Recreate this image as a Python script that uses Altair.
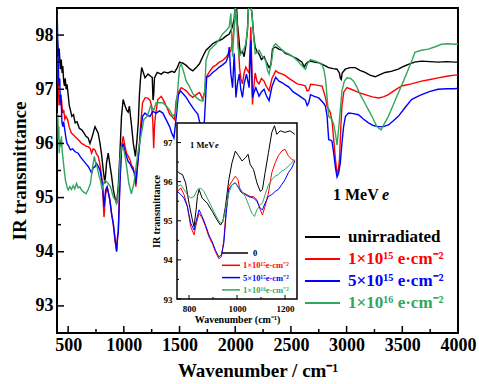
import altair as alt
import pandas as pd

FONT = "Liberation Serif"

# ---------------- main spectra (wavenumber cm-1, IR transmittance) ----------------
unirradiated = [
    (405, 97.90), (412, 97.60), (420, 97.75), (430, 97.37), (438, 97.55), (446, 97.30), (452, 97.43),
    (460, 97.15), (467, 97.06), (474, 97.20), (482, 97.00), (490, 97.09), (500, 96.90), (510, 96.70),
    (520, 96.62), (533, 96.50), (548, 96.53), (563, 96.38), (580, 96.40), (600, 96.28), (622, 96.25),
    (640, 96.20), (660, 96.13), (680, 96.10), (696, 96.00), (712, 96.10), (725, 96.19), (741, 96.31),
    (755, 96.25), (770, 96.19), (786, 96.00), (800, 95.80), (815, 95.51), (830, 95.26), (845, 95.65),
    (860, 95.82), (875, 95.60), (890, 95.40), (905, 95.15), (920, 95.00), (935, 94.89), (950, 95.20),
    (965, 95.82), (979, 96.50), (994, 96.81), (1010, 96.70), (1024, 96.62), (1039, 96.58), (1050, 96.69),
    (1060, 96.50), (1070, 96.31), (1085, 96.00), (1104, 95.76), (1118, 96.07), (1130, 96.40),
    (1140, 96.90), (1150, 97.20), (1160, 97.40), (1175, 97.31), (1190, 97.21), (1217, 97.28),
    (1240, 97.24), (1255, 97.22), (1262, 96.80), (1268, 96.90), (1275, 97.21), (1300, 97.31),
    (1336, 97.28), (1360, 97.32), (1396, 97.30), (1430, 97.33), (1455, 97.31), (1480, 97.40),
    (1500, 97.50), (1530, 97.48), (1560, 97.44), (1590, 97.38), (1619, 97.34), (1650, 97.40),
    (1679, 97.47), (1708, 97.60), (1738, 97.72), (1768, 97.78), (1798, 97.84), (1830, 97.88),
    (1857, 97.90), (1887, 97.93), (1917, 97.98), (1946, 98.02), (1965, 98.10), (1980, 98.20),
    (1991, 98.30), (2000, 98.60), (2010, 98.60), (2020, 98.20), (2030, 98.00), (2045, 97.65),
    (2065, 97.70), (2080, 97.60), (2095, 97.80), (2110, 98.10), (2120, 98.60), (2135, 98.60),
    (2150, 98.40), (2165, 98.00), (2179, 97.78), (2195, 97.70), (2214, 97.65), (2235, 97.55),
    (2259, 97.60), (2280, 97.50), (2304, 97.40), (2320, 97.45), (2335, 97.75), (2363, 97.78),
    (2390, 97.74), (2423, 97.72), (2450, 97.66), (2482, 97.64), (2520, 97.60), (2557, 97.56),
    (2600, 97.50), (2620, 97.40), (2631, 97.46), (2650, 97.50), (2676, 97.52), (2710, 97.50),
    (2750, 97.49), (2800, 97.44), (2839, 97.40), (2880, 97.38), (2914, 97.37), (2935, 97.30),
    (2945, 97.20), (2952, 97.18), (2960, 97.30), (2988, 97.37), (3030, 97.40), (3077, 97.40),
    (3120, 97.35), (3166, 97.31), (3210, 97.26), (3256, 97.23), (3300, 97.27), (3345, 97.31),
    (3400, 97.33), (3464, 97.37), (3510, 97.42), (3554, 97.46), (3610, 97.50), (3673, 97.52),
    (3750, 97.51), (3821, 97.50), (3900, 97.51), (3970, 97.50), (4000, 97.50),
]

dose_1e15 = [
    (405, 97.60), (410, 97.20), (418, 96.70), (425, 96.90), (432, 96.70), (440, 96.81), (450, 96.56),
    (460, 96.62), (470, 96.45), (480, 96.50), (495, 96.44), (510, 96.30), (530, 96.19), (550, 96.15),
    (575, 96.10), (600, 96.05), (620, 96.00), (640, 95.98), (660, 95.95), (680, 95.94), (700, 95.90),
    (711, 95.82), (725, 95.90), (741, 95.88), (755, 95.80), (770, 95.76), (785, 95.62), (800, 95.40),
    (810, 95.14), (818, 94.80), (822, 94.64), (830, 94.90), (837, 95.07), (850, 95.20), (860, 95.10),
    (875, 94.95), (890, 94.70), (905, 94.52), (920, 94.21), (935, 94.02), (945, 94.30), (950, 94.40),
    (965, 95.32), (979, 95.94), (994, 96.13), (1010, 95.95), (1024, 95.82), (1040, 95.76), (1055, 95.70),
    (1068, 95.60), (1085, 95.55), (1098, 95.38), (1108, 95.20), (1120, 95.50), (1128, 95.70),
    (1140, 96.00), (1150, 96.31), (1168, 96.75), (1190, 96.84), (1210, 96.84), (1235, 96.80),
    (1250, 96.69), (1260, 96.40), (1268, 95.91), (1275, 96.30), (1283, 96.50), (1305, 96.81),
    (1336, 96.87), (1360, 96.78), (1380, 96.69), (1396, 96.62), (1411, 96.54), (1430, 96.50),
    (1455, 96.44), (1470, 96.79), (1490, 96.95), (1515, 97.03), (1540, 97.00), (1560, 96.97),
    (1590, 96.90), (1619, 96.85), (1650, 96.90), (1679, 96.94), (1700, 96.86), (1708, 96.79),
    (1725, 96.95), (1738, 97.22), (1768, 97.32), (1798, 97.41), (1830, 97.45), (1857, 97.50),
    (1887, 97.53), (1917, 97.59), (1940, 97.65), (1961, 97.72), (1975, 97.90), (1991, 98.15),
    (2006, 98.45), (2015, 98.30), (2024, 97.98), (2039, 97.40), (2050, 97.20), (2065, 97.10),
    (2080, 97.30), (2095, 97.41), (2110, 97.35), (2125, 97.30), (2140, 98.15), (2148, 97.50),
    (2155, 96.72), (2165, 97.00), (2179, 97.30), (2195, 97.15), (2214, 97.10), (2235, 97.20),
    (2259, 97.15), (2280, 97.05), (2304, 96.97), (2330, 97.20), (2363, 97.34), (2393, 97.30),
    (2423, 97.28), (2450, 97.25), (2482, 97.20), (2520, 97.15), (2557, 97.10), (2600, 97.08),
    (2631, 97.06), (2645, 96.97), (2660, 96.98), (2676, 97.09), (2720, 97.08), (2780, 97.06),
    (2810, 96.85), (2824, 96.69), (2854, 96.57), (2870, 96.40), (2884, 96.07), (2900, 95.70),
    (2914, 95.45), (2925, 95.50), (2936, 95.70), (2948, 96.30), (2958, 96.69), (2975, 96.95),
    (3003, 97.03), (3040, 97.00), (3077, 96.97), (3120, 96.93), (3166, 96.90), (3230, 96.86),
    (3286, 96.84), (3330, 96.86), (3375, 96.90), (3430, 96.98), (3494, 97.06), (3580, 97.10),
    (3673, 97.15), (3750, 97.18), (3821, 97.21), (3900, 97.24), (3970, 97.26), (4000, 97.26),
]

dose_5e15 = [
    (400, 98.50), (403, 98.30), (407, 97.80), (411, 97.55), (415, 97.20), (420, 97.06), (425, 97.20),
    (430, 96.75), (436, 96.90), (444, 96.40), (452, 96.31), (460, 96.40), (470, 96.25), (480, 96.10),
    (490, 96.00), (505, 95.95), (520, 95.88), (540, 95.90), (560, 95.85), (590, 95.82), (610, 95.75),
    (630, 95.70), (650, 95.65), (670, 95.60), (682, 95.57), (700, 95.50), (711, 95.45), (725, 95.55),
    (741, 95.57), (755, 95.63), (770, 95.58), (785, 95.51), (800, 95.35), (810, 95.20), (818, 94.95),
    (823, 94.83), (830, 95.00), (837, 95.14), (850, 95.20), (860, 95.10), (875, 94.95), (890, 94.70),
    (905, 94.52), (920, 94.27), (935, 94.00), (945, 94.30), (950, 94.33), (965, 95.26), (979, 95.88),
    (994, 96.00), (1010, 95.85), (1024, 95.76), (1040, 95.66), (1055, 95.63), (1068, 95.57),
    (1085, 95.50), (1098, 95.45), (1108, 95.26), (1120, 95.55), (1128, 95.70), (1140, 95.95),
    (1150, 96.19), (1168, 96.50), (1190, 96.56), (1210, 96.52), (1235, 96.50), (1260, 96.59),
    (1290, 96.56), (1320, 96.60), (1350, 96.56), (1380, 96.44), (1411, 96.31), (1430, 96.19),
    (1450, 96.10), (1470, 96.48), (1490, 96.90), (1510, 96.97), (1530, 96.92), (1560, 96.85),
    (1590, 96.75), (1619, 96.66), (1640, 96.60), (1664, 96.54), (1680, 96.40), (1694, 96.35),
    (1708, 96.28), (1723, 96.41), (1744, 97.22), (1770, 97.25), (1798, 97.31), (1830, 97.36),
    (1857, 97.41), (1887, 97.45), (1917, 97.50), (1935, 97.60), (1946, 97.78), (1960, 97.30),
    (1976, 97.03), (1991, 97.66), (2000, 97.20), (2006, 96.85), (2020, 97.10), (2036, 97.28),
    (2050, 97.00), (2065, 96.85), (2080, 97.10), (2101, 97.28), (2125, 97.03), (2140, 97.90),
    (2148, 97.30), (2155, 96.85), (2170, 96.95), (2185, 97.03), (2200, 96.95), (2214, 96.87),
    (2235, 96.95), (2259, 97.00), (2280, 96.88), (2304, 96.79), (2330, 97.05), (2363, 97.22),
    (2393, 97.15), (2423, 97.12), (2450, 97.08), (2482, 97.04), (2520, 96.95), (2560, 96.90),
    (2601, 96.84), (2630, 96.80), (2646, 96.70), (2660, 96.75), (2676, 96.90), (2710, 96.87),
    (2750, 96.84), (2790, 96.75), (2810, 96.69), (2825, 96.50), (2839, 96.07), (2855, 96.06),
    (2869, 96.04), (2884, 95.82), (2900, 95.55), (2914, 95.38), (2928, 95.45), (2943, 95.63),
    (2958, 96.00), (2973, 96.31), (2990, 96.50), (3018, 96.56), (3060, 96.55), (3107, 96.53),
    (3150, 96.45), (3196, 96.38), (3240, 96.33), (3286, 96.31), (3330, 96.31), (3375, 96.34),
    (3420, 96.42), (3464, 96.50), (3520, 96.65), (3583, 96.81), (3630, 96.86), (3673, 96.90),
    (3750, 96.96), (3821, 97.00), (3900, 97.01), (3970, 97.01), (4000, 97.02),
]

dose_1e16 = [
    (403, 96.56), (408, 96.44), (412, 96.07), (416, 96.31), (420, 95.82), (426, 96.07), (432, 95.94),
    (440, 96.13), (447, 95.85), (455, 95.70), (465, 95.50), (476, 95.32), (490, 95.20), (500, 95.14),
    (515, 95.20), (530, 95.15), (545, 95.22), (560, 95.16), (575, 95.26), (590, 95.18), (605, 95.20),
    (620, 95.14), (640, 95.10), (660, 95.07), (680, 95.15), (700, 95.26), (712, 95.45), (725, 95.63),
    (735, 95.76), (748, 95.63), (760, 95.57), (777, 95.40), (790, 95.32), (805, 95.14), (820, 95.28),
    (835, 95.32), (860, 95.26), (880, 95.20), (905, 95.01), (925, 94.95), (935, 94.89), (945, 95.00),
    (960, 95.40), (965, 95.70), (979, 95.94), (1000, 95.88), (1015, 95.72), (1025, 95.57),
    (1045, 95.26), (1068, 95.07), (1090, 95.26), (1110, 95.57), (1130, 95.88), (1158, 96.19),
    (1180, 96.44), (1210, 96.50), (1240, 96.69), (1270, 96.62), (1290, 96.75), (1330, 96.75),
    (1350, 96.75), (1380, 96.69), (1410, 96.62), (1440, 96.50), (1466, 96.56), (1480, 96.90),
    (1500, 97.40), (1515, 97.47), (1540, 97.30), (1560, 97.15), (1589, 97.05), (1620, 96.92),
    (1649, 96.85), (1680, 96.80), (1708, 96.78), (1725, 96.95), (1738, 97.53), (1768, 97.72),
    (1798, 97.78), (1827, 97.84), (1857, 97.92), (1887, 98.02), (1917, 98.08), (1946, 98.15),
    (1961, 98.40), (1968, 97.95), (1976, 97.60), (1990, 98.10), (2000, 98.60), (2012, 98.30),
    (2025, 97.80), (2036, 97.60), (2060, 97.70), (2080, 97.75), (2095, 97.84), (2110, 98.10),
    (2122, 98.60), (2135, 98.60), (2150, 98.40), (2165, 98.00), (2179, 97.66), (2195, 97.68),
    (2214, 97.72), (2240, 97.62), (2274, 97.53), (2290, 97.35), (2304, 97.28), (2325, 97.50),
    (2345, 97.80), (2363, 97.84), (2393, 97.78), (2423, 97.72), (2450, 97.68), (2482, 97.65),
    (2520, 97.60), (2557, 97.53), (2590, 97.45), (2631, 97.37), (2650, 97.48), (2676, 97.55),
    (2720, 97.52), (2750, 97.49), (2780, 97.45), (2795, 97.37), (2810, 97.20), (2824, 96.87),
    (2839, 96.50), (2869, 96.44), (2884, 96.35), (2899, 96.19), (2914, 95.97), (2925, 96.20),
    (2936, 96.44), (2958, 96.97), (2980, 97.15), (3003, 97.21), (3035, 97.20), (3063, 97.15),
    (3090, 97.05), (3122, 96.90), (3160, 96.76), (3196, 96.62), (3235, 96.47), (3271, 96.31),
    (3309, 96.25), (3340, 96.37), (3375, 96.50), (3420, 96.72), (3464, 96.93), (3510, 97.15),
    (3554, 97.37), (3590, 97.55), (3613, 97.68), (3670, 97.72), (3732, 97.74), (3790, 97.78),
    (3851, 97.83), (3910, 97.84), (3970, 97.83), (4000, 97.84),
]

# ---------------- inset spectra (750-1250 cm-1) ----------------
inset_unirradiated = [
    (752, 96.27), (759, 96.22), (773, 96.18), (786, 95.97), (800, 95.45), (814, 95.02), (821, 94.85),
    (830, 95.30), (835, 95.62), (842, 95.80), (855, 95.58), (876, 95.45), (897, 95.24), (917, 95.02),
    (931, 94.89), (941, 94.98), (952, 95.37), (966, 96.05), (979, 96.48), (993, 96.78), (1007, 96.66),
    (1021, 96.53), (1035, 96.61), (1046, 96.70), (1055, 96.44), (1069, 96.31), (1083, 95.97),
    (1097, 95.75), (1106, 95.80), (1117, 96.23), (1131, 96.74), (1145, 97.26), (1156, 97.43),
    (1166, 97.21), (1180, 97.30), (1200, 97.26), (1221, 97.30), (1241, 97.21),
]
inset_1e15 = [
    (752, 95.75), (766, 95.84), (779, 95.67), (793, 95.37), (807, 94.85), (821, 94.64), (831, 94.94),
    (842, 95.19), (855, 95.07), (869, 94.85), (883, 94.59), (897, 94.42), (910, 94.21), (924, 94.03),
    (935, 94.08), (945, 94.51), (955, 95.28), (966, 95.88), (979, 96.01), (993, 96.14), (1004, 96.05),
    (1014, 95.75), (1028, 95.71), (1041, 95.67), (1055, 95.62), (1069, 95.62), (1083, 95.54),
    (1097, 95.28), (1106, 95.15), (1117, 95.37), (1131, 95.71), (1145, 96.23), (1159, 96.48),
    (1172, 96.66), (1186, 96.78), (1200, 96.83), (1214, 96.66), (1228, 96.57), (1241, 96.53),
]
inset_5e15 = [
    (752, 95.75), (766, 95.67), (779, 95.58), (793, 95.37), (807, 94.94), (821, 94.76), (831, 95.02),
    (842, 95.28), (855, 95.11), (869, 94.89), (883, 94.64), (897, 94.46), (910, 94.25), (924, 94.08),
    (935, 94.12), (945, 94.42), (955, 95.19), (966, 95.80), (979, 95.92), (993, 95.97), (1007, 95.84),
    (1021, 95.71), (1035, 95.67), (1048, 95.62), (1069, 95.58), (1083, 95.50), (1097, 95.32),
    (1106, 95.28), (1117, 95.45), (1131, 95.62), (1145, 95.67), (1159, 95.75), (1172, 95.80),
    (1186, 95.92), (1200, 96.05), (1214, 96.23), (1228, 96.35), (1241, 96.53),
]
inset_1e16 = [
    (752, 95.88), (766, 95.92), (779, 95.80), (793, 95.67), (807, 95.58), (821, 95.62), (835, 95.80),
    (848, 95.84), (862, 95.75), (876, 95.58), (890, 95.41), (903, 95.24), (917, 95.07), (931, 94.94),
    (941, 94.98), (952, 95.28), (966, 95.71), (979, 95.92), (993, 95.97), (1007, 95.88), (1021, 95.75),
    (1035, 95.62), (1048, 95.41), (1062, 95.19), (1073, 95.11), (1083, 95.28), (1097, 95.41),
    (1106, 95.45), (1117, 95.67), (1131, 95.92), (1145, 96.05), (1159, 96.14), (1172, 96.18),
    (1186, 96.27), (1200, 96.31), (1214, 96.40), (1228, 96.48), (1241, 96.57),
]

# ---------------- labels / ticks ----------------
legend_labels = ["unirradiated", "1×10¹⁵ e·cm⁻²", "5×10¹⁵ e·cm⁻²", "1×10¹⁶ e·cm⁻²"]
inset_labels = ["0", "1×10¹⁵e·cm⁻²", "5×10¹⁵e·cm⁻²", "1×10¹⁶e·cm⁻²"]
colors = ["#000000", "#ff0000", "#0000ff", "#33a65e"]
x_major = [500, 1000, 1500, 2000, 2500, 3000, 3500, 4000]
x_minor = [750, 1250, 1750, 2250, 2750, 3250, 3750]
y_major = [93, 94, 95, 96, 97, 98]
y_minor = [93.5, 94.5, 95.5, 96.5, 97.5]
ix_major = [800, 1000, 1200]
ix_minor = [900, 1100]
iy_major = [93, 94, 95, 96, 97]
iy_minor = [93.5, 94.5, 95.5, 96.5]

# ---------------- layout constants (pixels) ----------------
W, H = 401, 325
IX0, IX1, IY0, IY1 = 120, 240, 115, 291

main_series = [unirradiated, dose_1e15, dose_5e15, dose_1e16]
inset_series = [inset_unirradiated, inset_1e15, inset_5e15, inset_1e16]


def frame(pairs):
    return pd.DataFrame(pairs, columns=["wn", "t"])


one = pd.DataFrame({"k": [0]})

xm = alt.X("wn:Q", scale=alt.Scale(domain=[400, 4000], nice=False, zero=False),
           axis=alt.Axis(values=x_major, format="d", ticks=False, domain=False, grid=False,
                         labelFont=FONT, labelFontWeight="bold", labelFontSize=18,
                         labelColor="black", labelPadding=3, labelFlush=False, labelOverlap=False,
                         title="Wavenumber / cm⁻¹", titleFont=FONT, titleFontWeight="bold",
                         titleFontSize=19, titleColor="black", titlePadding=7))
ym = alt.Y("t:Q", scale=alt.Scale(domain=[92.5, 98.5], nice=False, zero=False),
           axis=alt.Axis(values=y_major, format="d", ticks=False, domain=False, grid=False,
                         labelFont=FONT, labelFontWeight="bold", labelFontSize=18,
                         labelColor="black", labelPadding=4, labelFlush=False, labelOverlap=False,
                         title="IR transmittance", titleFont=FONT, titleFontWeight="bold",
                         titleFontSize=19, titleColor="black", titlePadding=6))

main_layers = []
for pairs, col in zip(main_series, colors):
    main_layers.append(
        alt.Chart(frame(pairs)).mark_line(color=col, strokeWidth=1.4, clip=True)
        .encode(x=xm, y=ym))

# inward tick marks of the main frame
main_layers.append(alt.Chart(pd.DataFrame({"wn": x_major})).mark_rule(color="black", strokeWidth=1.5)
                   .encode(x=xm, y=alt.value(H), y2=alt.value(H - 7)))
main_layers.append(alt.Chart(pd.DataFrame({"wn": x_minor})).mark_rule(color="black", strokeWidth=1.5)
                   .encode(x=xm, y=alt.value(H), y2=alt.value(H - 4)))
main_layers.append(alt.Chart(pd.DataFrame({"t": y_major})).mark_rule(color="black", strokeWidth=1.5)
                   .encode(y=ym, x=alt.value(0), x2=alt.value(7)))
main_layers.append(alt.Chart(pd.DataFrame({"t": y_minor})).mark_rule(color="black", strokeWidth=1.5)
                   .encode(y=ym, x=alt.value(0), x2=alt.value(4)))

# main legend
for i, (lab, col) in enumerate(zip(legend_labels, colors)):
    yy = 229 + 22 * i
    main_layers.append(alt.Chart(one).mark_rule(color=col, strokeWidth=2)
                       .encode(x=alt.value(248), x2=alt.value(283), y=alt.value(yy)))
    main_layers.append(alt.Chart(one).mark_text(align="left", baseline="middle", font=FONT,
                                                fontWeight="bold", fontSize=17, color=col)
                       .encode(x=alt.value(291), y=alt.value(yy), text=alt.value(lab)))

main_layers.append(alt.Chart(one).mark_text(align="left", baseline="middle", font=FONT,
                                            fontWeight="bold", fontSize=16, color="black")
                   .encode(x=alt.value(276), y=alt.value(187), text=alt.value("1 MeV")))
main_layers.append(alt.Chart(one).mark_text(align="left", baseline="middle", font=FONT,
                                            fontWeight="bold", fontStyle="italic", fontSize=16,
                                            color="black")
                   .encode(x=alt.value(325), y=alt.value(187), text=alt.value("e")))

main = alt.layer(*main_layers)

# ---------------- inset ----------------
xi = alt.X("wn:Q", scale=alt.Scale(domain=[750, 1250], range=[IX0, IX1], nice=False, zero=False),
           axis=alt.Axis(orient="bottom", offset=IY1 - H, values=ix_major, format="d", ticks=False,
                         domain=False, grid=False, zindex=1, labelFont=FONT, labelFontWeight="bold",
                         labelFontSize=9, labelColor="black", labelPadding=5, labelFlush=False,
                         labelOverlap=False, title="Wavenumber (cm⁻¹)", titleFont=FONT,
                         titleFontWeight="bold", titleFontSize=10, titleColor="black", titlePadding=1))
yi = alt.Y("t:Q", scale=alt.Scale(domain=[93, 97.5], range=[IY1, IY0], nice=False, zero=False),
           axis=alt.Axis(orient="left", offset=-IX0, values=iy_major, format="d", ticks=False,
                         domain=False, grid=False, zindex=1, labelFont=FONT, labelFontWeight="bold",
                         labelFontSize=9, labelColor="black", labelPadding=5, labelFlush=False,
                         labelOverlap=False, title="IR transmittance", titleFont=FONT,
                         titleFontWeight="bold", titleFontSize=10, titleColor="black", titlePadding=2))

inset_layers = [
    alt.Chart(one).mark_rect(fill="white", stroke="black", strokeWidth=1.5)
    .encode(x=alt.value(IX0), x2=alt.value(IX1), y=alt.value(IY0), y2=alt.value(IY1))
]
for pairs, col in zip(inset_series, colors):
    inset_layers.append(
        alt.Chart(frame(pairs)).mark_line(color=col, strokeWidth=1.0).encode(x=xi, y=yi))

inset_layers.append(alt.Chart(pd.DataFrame({"wn": ix_major})).mark_rule(color="black", strokeWidth=1)
                    .encode(x=xi, y=alt.value(IY1), y2=alt.value(IY1 - 4)))
inset_layers.append(alt.Chart(pd.DataFrame({"wn": ix_minor})).mark_rule(color="black", strokeWidth=1)
                    .encode(x=xi, y=alt.value(IY1), y2=alt.value(IY1 - 2)))
inset_layers.append(alt.Chart(pd.DataFrame({"t": iy_major})).mark_rule(color="black", strokeWidth=1)
                    .encode(y=yi, x=alt.value(IX0), x2=alt.value(IX0 + 4)))
inset_layers.append(alt.Chart(pd.DataFrame({"t": iy_minor})).mark_rule(color="black", strokeWidth=1)
                    .encode(y=yi, x=alt.value(IX0), x2=alt.value(IX0 + 2)))

for i, (lab, col) in enumerate(zip(inset_labels, colors)):
    yy = 245 + 12.3 * i
    x_end = 191 if i == 0 else 183
    x_txt = 196 if i == 0 else 186
    inset_layers.append(alt.Chart(one).mark_rule(color=col, strokeWidth=1.5)
                        .encode(x=alt.value(165), x2=alt.value(x_end), y=alt.value(yy)))
    inset_layers.append(alt.Chart(one).mark_text(align="left", baseline="middle", font=FONT,
                                                 fontWeight="bold", fontSize=8.5, color=col)
                        .encode(x=alt.value(x_txt), y=alt.value(yy), text=alt.value(lab)))

inset_layers.append(alt.Chart(one).mark_text(align="left", baseline="middle", font=FONT,
                                             fontWeight="bold", fontSize=8.5, color="black")
                    .encode(x=alt.value(133), y=alt.value(137), text=alt.value("1 MeV")))
inset_layers.append(alt.Chart(one).mark_text(align="left", baseline="middle", font=FONT,
                                             fontWeight="bold", fontStyle="italic", fontSize=8.5,
                                             color="black")
                    .encode(x=alt.value(158), y=alt.value(137), text=alt.value("e")))

inset = alt.layer(*inset_layers)

chart = (
    alt.layer(main, inset)
    .resolve_scale(x="independent", y="independent")
    .properties(width=W, height=H, autosize=alt.AutoSizeParams(type="none"),
                padding={"left": 57, "top": 8, "right": 21, "bottom": 51}, background="white")
    .configure_view(stroke="black", strokeWidth=2)
)

chart.save("out.html", embed_options={"renderer": "svg", "actions": False})
